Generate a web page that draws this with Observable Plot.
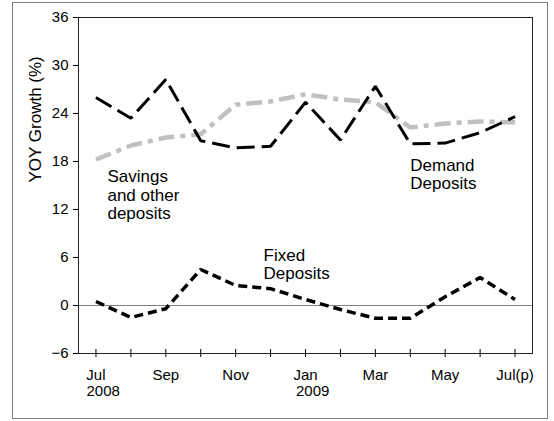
<!DOCTYPE html>
<html><head><meta charset="utf-8">
<script src="https://cdn.jsdelivr.net/npm/d3@7"></script>
<script src="https://cdn.jsdelivr.net/npm/@observablehq/plot@0.6"></script>
<style>
html,body{margin:0;padding:0;background:#fff;}
#wrap{position:relative;width:554px;height:421px;font-family:"Liberation Sans",Arial,sans-serif;}
#frame{position:absolute;left:12px;top:2px;width:536px;height:417px;border:1px solid #808080;box-sizing:border-box;pointer-events:none;}
#chart{position:absolute;left:0;top:0;}
</style></head><body>
<div id="wrap"><div id="chart"></div><div id="frame"></div></div>
<script>
const months = ["Jul 2008","Aug 2008","Sep 2008","Oct 2008","Nov 2008","Dec 2008","Jan 2009","Feb 2009","Mar 2009","Apr 2009","May 2009","Jun 2009","Jul 2009"];
const monthLabels = ["Jul","","Sep","","Nov","","Jan","","Mar","","May","","Jul(p)"];
const yearLabels = ["2008","","","","","","2009","","","","","",""];
const demand  = [26.0, 23.4, 28.25, 20.6, 19.7, 19.9, 25.4, 20.7, 27.4, 20.2, 20.3, 21.6, 23.6];
const savings = [18.25, 20.0, 21.0, 21.4, 25.1, 25.5, 26.4, 25.75, 25.4, 22.25, 22.75, 23.0, 22.9];
const fixed   = [0.5, -1.5, -0.4, 4.5, 2.5, 2.1, 0.75, -0.5, -1.6, -1.6, 1.1, 3.5, 0.75];
const yTicks = [-6, 0, 6, 12, 18, 24, 30, 36];
const seriesNames = ["Savings\nand other\ndeposits", "Demand\nDeposits", "Fixed\nDeposits"];

const toRows = vals => months.map((m, i) => ({month: m, value: vals[i]}));
const font = "Liberation Sans, Arial, sans-serif";

const chart = Plot.plot({
  width: 554,
  height: 421,
  marginLeft: 78,
  marginRight: 22,
  marginTop: 17,
  marginBottom: 68,
  style: {fontFamily: font, fontSize: "15px", color: "#000", background: "transparent"},
  x: {type: "point", domain: months, padding: 0.5, round: false},
  y: {domain: [-6, 36]},
  marks: [
    Plot.ruleY([0], {stroke: "#808080", strokeWidth: 1.2}),
    Plot.frame({stroke: "#222", strokeWidth: 1}),
    Plot.axisY({ticks: yTicks, tickSize: 5, tickPadding: 5, label: null, fontSize: 15, stroke: "#000"}),
    Plot.axisX({ticks: months, tickSize: 0, tickPadding: 16, label: null, fontSize: 15,
      tickFormat: d => monthLabels[months.indexOf(d)]}),
    Plot.ruleX(months, {x: d => d, y1: -6, y2: -6, insetTop: -4, insetBottom: -4, stroke: "#000"}),
    Plot.text(months, {x: d => d, y: -6, text: d => yearLabels[months.indexOf(d)],
      textAnchor: "start", lineAnchor: "top", dx: -9.5, dy: 32, fontSize: 15, fill: "#000"}),
    Plot.text(["YOY Growth (%)"], {frameAnchor: "left", rotate: -90, dx: -43, dy: -3, fontSize: 17, fill: "#000"}),
    Plot.line(toRows(savings), {x: "month", y: "value", stroke: "#c0c0c0", strokeWidth: 4.5,
      strokeDasharray: "16,6,5,6", strokeLinecap: "butt", strokeLinejoin: "miter"}),
    Plot.line(toRows(demand), {x: "month", y: "value", stroke: "#000", strokeWidth: 3,
      strokeDasharray: "18,7", strokeLinecap: "butt", strokeLinejoin: "miter"}),
    Plot.line(toRows(fixed), {x: "month", y: "value", stroke: "#000", strokeWidth: 3.5,
      strokeDasharray: "9,5", strokeLinecap: "butt", strokeLinejoin: "miter"}),
    Plot.text([seriesNames[0]], {x: () => months[0], y: () => 17.1, dx: 11.5, textAnchor: "start", lineAnchor: "top", lineHeight: 1.1, fontSize: 17, fill: "#000"}),
    Plot.text([seriesNames[1]], {x: () => months[9], y: () => 18.5, dx: 0, textAnchor: "start", lineAnchor: "top", lineHeight: 1.08, fontSize: 17, fill: "#000"}),
    Plot.text([seriesNames[2]], {x: () => months[5], y: () => 7.25, dx: -7, textAnchor: "start", lineAnchor: "top", lineHeight: 1.08, fontSize: 17, fill: "#000"})
  ]
});
document.getElementById("chart").appendChild(chart);
</script>
</body></html>
